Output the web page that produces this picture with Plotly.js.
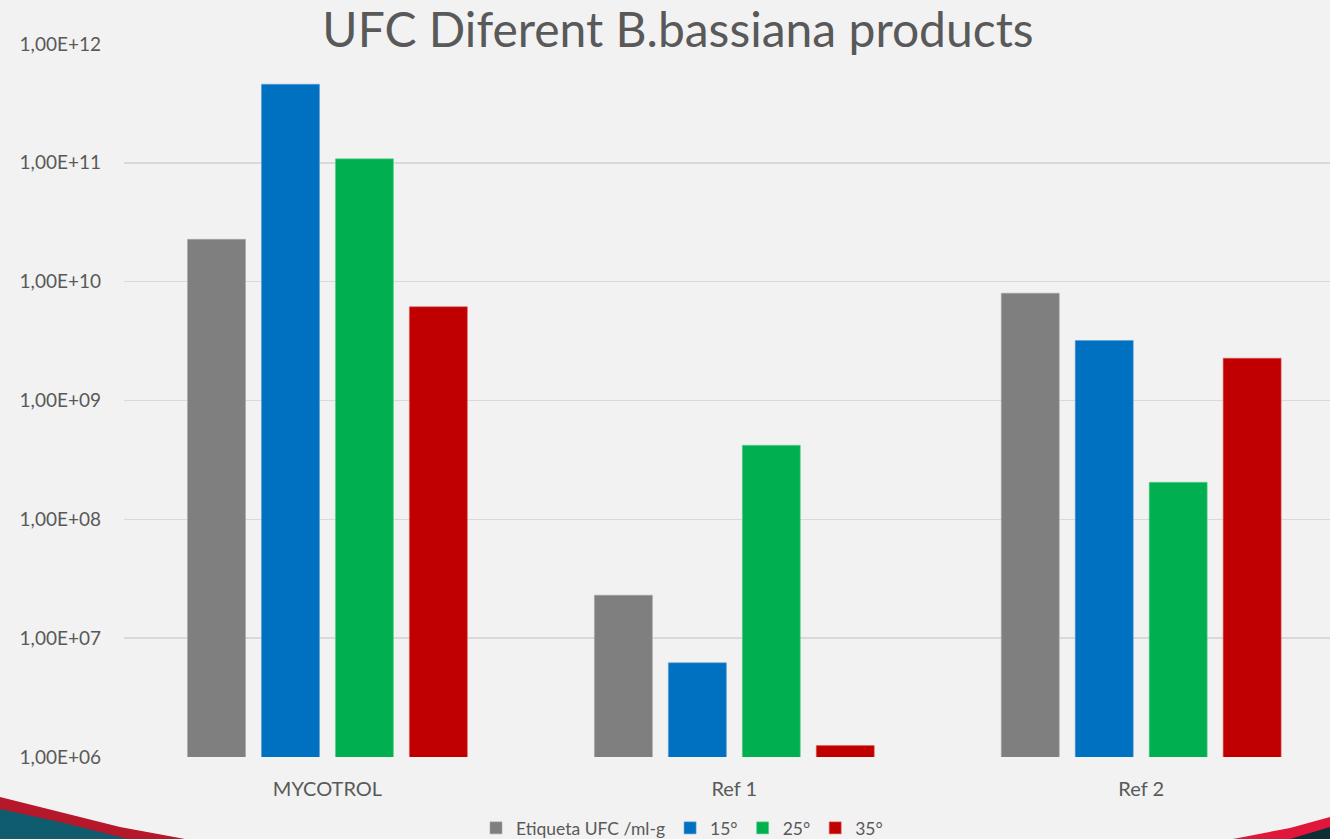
<!DOCTYPE html>
<html>
<head>
<meta charset="utf-8">
<script src="https://cdn.plot.ly/plotly-3.0.1.min.js"></script>
<style>html,body{margin:0;padding:0;background:#f2f2f2;}#chart{width:1330px;height:839px;}</style>
</head>
<body>
<div id="chart"></div>
<script>
var categories = ['MYCOTROL', 'Ref 1', 'Ref 2'];
var seriesNames = ['Etiqueta UFC /ml-g', '15°', '25°', '35°'];
var etiqueta = [2.27e10, 2.3e7, 8.0e9];
var t15 = [4.58e11, 6.2e6, 3.2e9];
var t25 = [1.08e11, 4.2e8, 2.05e8];
var t35 = [6.15e9, 1.25e6, 2.27e9];
var tickValues = [1e6, 1e7, 1e8, 1e9, 1e10, 1e11, 1e12];
var tickLabels = ['1,00E+06', '1,00E+07', '1,00E+08', '1,00E+09', '1,00E+10', '1,00E+11', '1,00E+12'];
var colors = ['#7f7f7f', '#0070c0', '#00b050', '#c00000'];
var edge = ['#a6a6a6', '#5b9bd5', '#5fd08a', '#e06060'];

var W = 1330, H = 839, ML = 124, MR = 0, MT = 44, MB = 82;
function px(x) { return (x - ML) / (W - ML - MR); }
function py(y) { return (H - MB - y) / (H - MT - MB); }
function path(pts) {
  return 'M' + pts.map(function (p) { return px(p[0]) + ',' + py(p[1]); }).join(' L') + ' Z';
}

var allSeries = [etiqueta, t15, t25, t35];
var data = allSeries.map(function (vals, i) {
  return {
    type: 'bar', name: seriesNames[i], x: categories, y: vals,
    marker: { color: colors[i], line: { color: edge[i], width: 0.6 } },
    hoverinfo: 'x+y+name'
  };
});

var layout = {
  width: W, height: H,
  paper_bgcolor: '#f2f2f2', plot_bgcolor: '#f2f2f2',
  margin: { l: ML, r: MR, t: MT, b: MB, autoexpand: false },
  font: { family: 'Lato, "Open Sans", sans-serif', color: '#595959' },
  title: {
    text: 'UFC Diferent B.bassiana products',
    font: { family: 'Lato, sans-serif', size: 48, color: '#595959' },
    x: 678 / W, xanchor: 'center', xref: 'container',
    y: 1 - 30 / H, yanchor: 'middle', yref: 'container'
  },
  barmode: 'group', bargap: 0.273, bargroupgap: 0.216,
  xaxis: {
    type: 'category', range: [-0.5, 2.464], fixedrange: true,
    showgrid: false, showline: false, zeroline: false,
    ticks: 'outside', ticklen: 14, tickcolor: 'rgba(0,0,0,0)',
    tickfont: { size: 20, color: '#595959' }
  },
  yaxis: {
    type: 'log', range: [6, 12], fixedrange: true,
    tickmode: 'array', tickvals: tickValues, ticktext: tickLabels,
    showgrid: true, gridcolor: '#d9d9d9', gridwidth: 1.5,
    zeroline: false, showline: false,
    ticks: '', ticklabelstandoff: 22,
    tickfont: { size: 19, color: '#595959' }
  },
  legend: {
    orientation: 'h', x: px(682), xanchor: 'center',
    y: py(828), yanchor: 'middle',
    font: { size: 17.5, color: '#595959' },
    bgcolor: 'rgba(0,0,0,0)', itemwidth: 30, tracegroupgap: 0
  },
  shapes: [
    { type: 'path', xref: 'paper', yref: 'paper', layer: 'above', line: { width: 0 }, fillcolor: '#b5172b',
      path: path([[0, 797], [60, 812], [120, 827], [185, 839], [0, 839]]) },
    { type: 'path', xref: 'paper', yref: 'paper', layer: 'above', line: { width: 0 }, fillcolor: '#0f5c6e',
      path: path([[0, 809], [60, 822], [128, 839], [0, 839]]) },
    { type: 'path', xref: 'paper', yref: 'paper', layer: 'above', line: { width: 0 }, fillcolor: '#e0173a',
      path: path([[1233, 839], [1290, 828], [1330, 817], [1330, 839]]) },
    { type: 'path', xref: 'paper', yref: 'paper', layer: 'above', line: { width: 0 }, fillcolor: '#0d2f36',
      path: path([[1290, 839], [1330, 827], [1330, 839]]) }
  ]
};

Plotly.newPlot('chart', data, layout, { displayModeBar: false, staticPlot: true });
</script>
</body>
</html>
